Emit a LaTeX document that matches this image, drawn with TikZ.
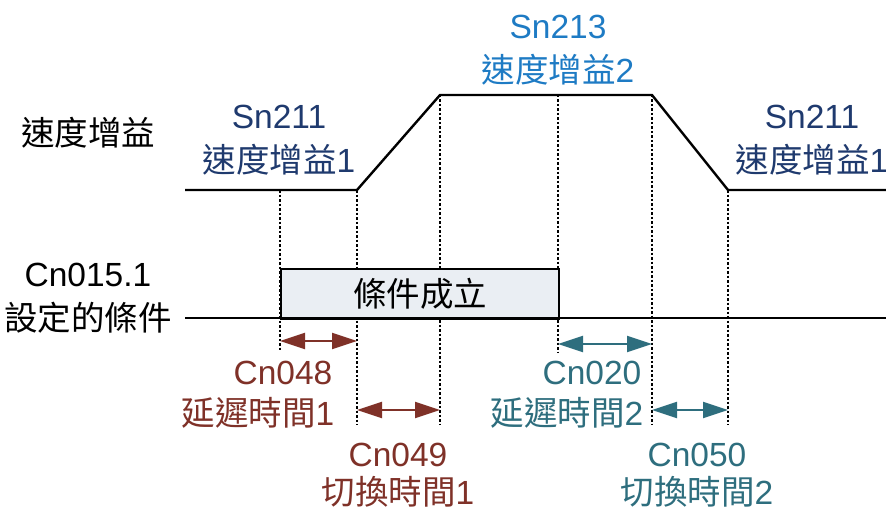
\documentclass[tikz,border=0pt]{standalone}
\usepackage{fontspec}
\setmainfont{Liberation Sans}
\newfontfamily\cjk{Noto Sans CJK TC}
\usetikzlibrary{arrows.meta}
\definecolor{navy}{HTML}{1F3A6E}
\definecolor{sblue}{HTML}{1E7BC4}
\definecolor{dred}{HTML}{7F3128}
\definecolor{dteal}{HTML}{2E6E7E}
\definecolor{boxfill}{HTML}{EAEEF3}
\begin{document}
\begin{tikzpicture}[x=1pt,y=-1pt,
  lbl/.style={inner sep=0pt,font=\fontsize{33.5}{36}\selectfont},
  sig/.style={line width=2.4pt,line join=miter},
  guide/.style={line width=1.8pt,dash pattern=on 2.5pt off 2pt},
  dimarrow/.style={line width=2.2pt,{Triangle[length=25pt,width=16pt]}-{Triangle[length=25pt,width=16pt]}}]
\useasboundingbox (0,0) rectangle (886,508);
% coordinates
\coordinate (s0) at (185,190);
\coordinate (s1) at (357,190);
\coordinate (s2) at (440,95);
\coordinate (s3) at (652,95);
\coordinate (s4) at (728,190);
\coordinate (s5) at (886,190);
\coordinate (b0) at (185,318);
\coordinate (b1) at (886,318);
% guides
\coordinate (g1t) at (280,190); \coordinate (g1b) at (280,350);
\coordinate (g2t) at (357,190); \coordinate (g2b) at (357,425);
\coordinate (g3t) at (440,95);  \coordinate (g3b) at (440,425);
\coordinate (g4t) at (558,95);  \coordinate (g4b) at (558,352);
\coordinate (g5t) at (652,95);  \coordinate (g5b) at (652,425);
\coordinate (g6t) at (728,190); \coordinate (g6b) at (728,425);
\foreach \g in {1,...,6} \draw[guide] (g\g t) -- (g\g b);
% box
\node[draw,line width=2.2pt,fill=boxfill,minimum width=278pt,minimum height=50pt,anchor=north west,inner sep=0pt] (cond) at (280,268) {};
\node[lbl] (condtxt) at (cond.center) {\cjk 條件成立};
% signals
\draw[sig] (s0) -- (s1) -- (s2) -- (s3) -- (s4) -- (s5);
\draw[sig] (b0) -- (b1);
% arrows
\coordinate (a1l) at (280,341); \coordinate (a1r) at (357,341);
\coordinate (a2l) at (357,410); \coordinate (a2r) at (440,410);
\coordinate (a3l) at (558,344); \coordinate (a3r) at (652,344);
\coordinate (a4l) at (652,410); \coordinate (a4r) at (728,410);
\draw[dimarrow,dred] (a1l) -- (a1r);
\draw[dimarrow,dred] (a2l) -- (a2r);
\draw[dimarrow,dteal] (a3l) -- (a3r);
\draw[dimarrow,dteal] (a4l) -- (a4r);
% labels
\node[lbl] (t0) at (88,133) {\cjk 速度增益};
\node[lbl,navy] (t1) at (279,117) {Sn211};
\node[lbl,navy] (t2) at (279,160) {\cjk 速度增益\rmfamily 1};
\node[lbl,sblue] (t3) at (558,27) {Sn213};
\node[lbl,sblue] (t4) at (558,70) {\cjk 速度增益\rmfamily 2};
\node[lbl,navy] (t5) at (812,117) {Sn211};
\node[lbl,navy] (t6) at (812,160) {\cjk 速度增益\rmfamily 1};
\node[lbl] (t7) at (88,275) {Cn015.1};
\node[lbl] (t8) at (88,318) {\cjk 設定的條件};
\node[lbl,dred] (t9) at (283,373) {Cn048};
\node[lbl,dred] (t10) at (258,413) {\cjk 延遲時間\rmfamily 1};
\node[lbl,dred] (t11) at (398,455) {Cn049};
\node[lbl,dred] (t12) at (398,492) {\cjk 切換時間\rmfamily 1};
\node[lbl,dteal] (t13) at (592,373) {Cn020};
\node[lbl,dteal] (t14) at (567,413) {\cjk 延遲時間\rmfamily 2};
\node[lbl,dteal] (t15) at (697,455) {Cn050};
\node[lbl,dteal] (t16) at (697,492) {\cjk 切換時間\rmfamily 2};
\end{tikzpicture}
\end{document}
